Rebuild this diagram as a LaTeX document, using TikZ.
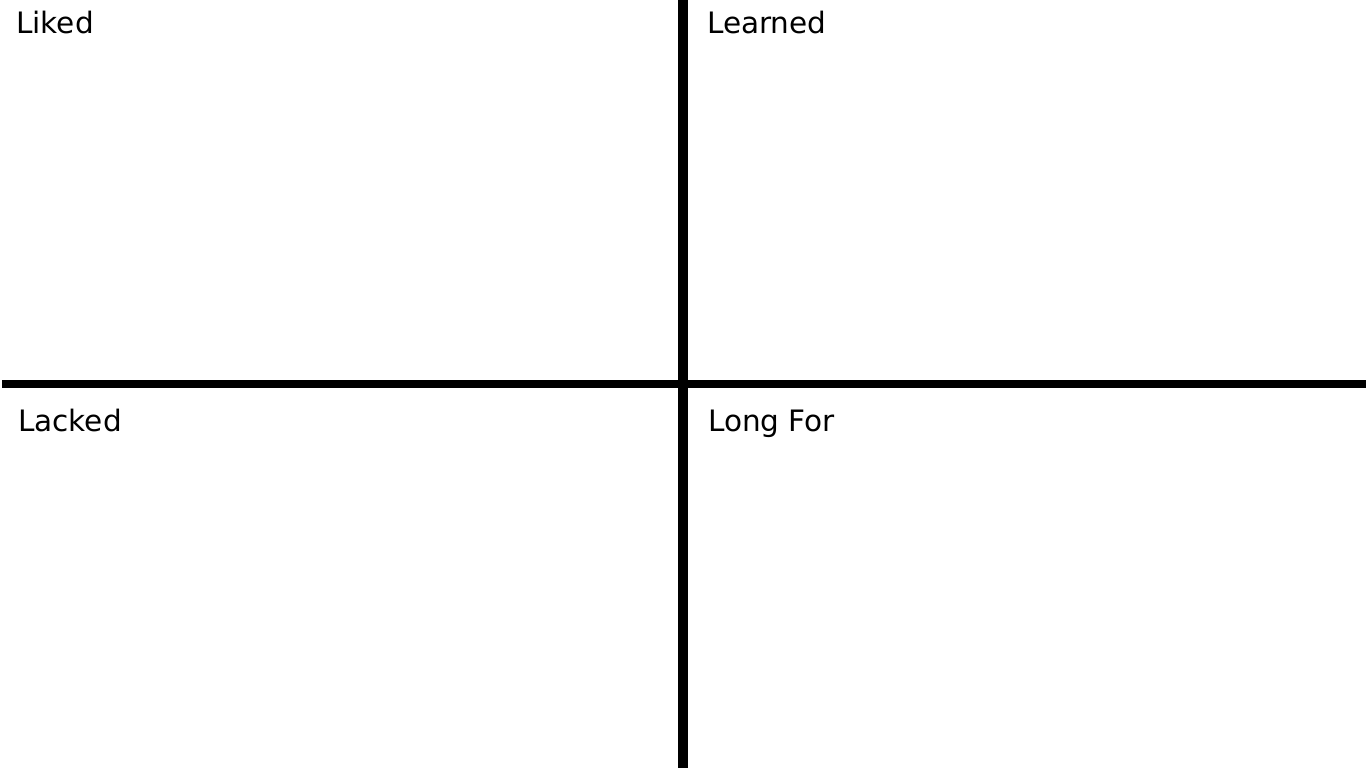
\documentclass[tikz,border=0pt]{standalone}
\usepackage{fontspec}
\setmainfont{DejaVu Sans}
\begin{document}
\begin{tikzpicture}[x=1pt,y=-1pt,
  lbl/.style={anchor=base west,inner sep=0pt,font=\fontsize{29.5}{34}\selectfont},
  axis/.style={line width=8.5pt,black}]
\useasboundingbox (0,0) rectangle (1366,768);
\coordinate (vtop) at (683,0);
\coordinate (vbot) at (683,768);
\coordinate (hl) at (2,384);
\coordinate (hr) at (1366,384);
\draw[line width=10pt] (vtop) -- (vbot);
\draw[axis] (hl) -- (hr);
\node[lbl] (liked) at (16,34) {Liked};
\node[lbl] (learned) at (707,34) {Learned};
\node[lbl] (lacked) at (18,431) {Lacked};
\node[lbl] (longfor) at (708,431) {Long For};
\end{tikzpicture}
\end{document}
